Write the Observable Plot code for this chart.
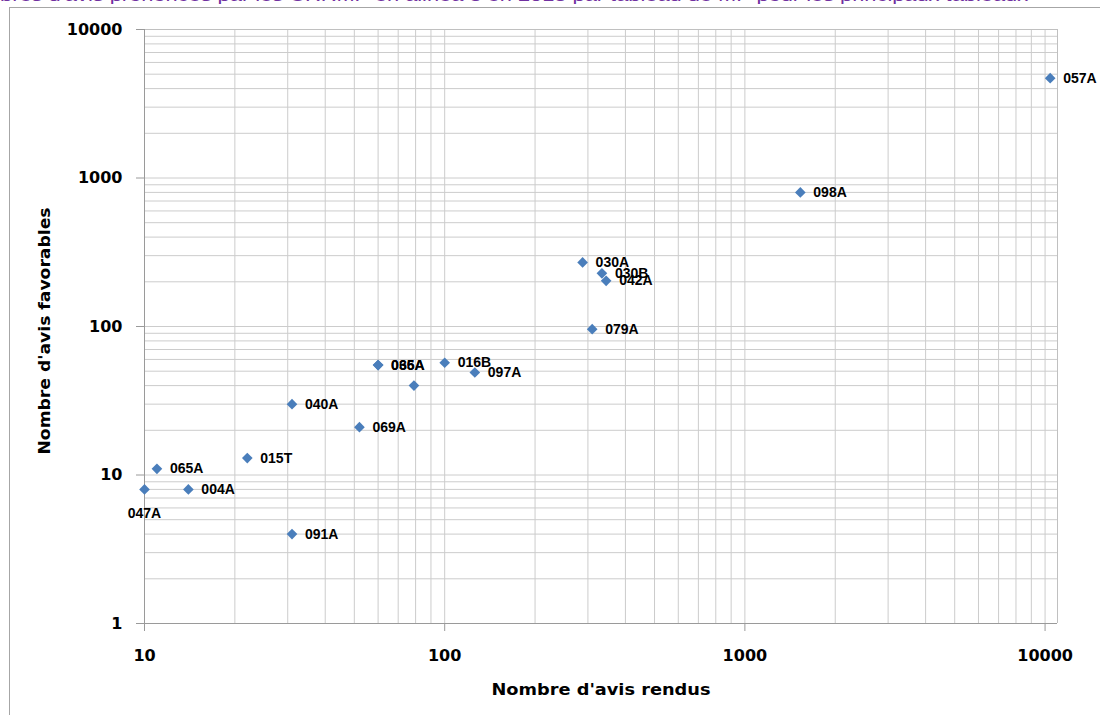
<!DOCTYPE html>
<html>
<head>
<meta charset="utf-8">
<script src="https://cdn.jsdelivr.net/npm/d3@7"></script>
<script src="https://cdn.jsdelivr.net/npm/@observablehq/plot@0.6"></script>
<style>
html, body { margin: 0; padding: 0; background: #fff; width: 1100px; height: 715px; overflow: hidden; position: relative; }
#frame { position: absolute; left: 9px; top: 7px; width: 1200px; height: 800px; border: 1px solid #a6a6a6; }
#chart { position: absolute; left: 0; top: 0; }
#title { position: absolute; left: 0; top: -12px; font: 16px "Liberation Sans", sans-serif; line-height: 16px; color: #7030a0; white-space: nowrap; transform-origin: 0 0; }
</style>
</head>
<body>
<div id="frame"></div>
<div id="chart"></div>
<div id="title"></div>
<script>
// ---- Data ----
const titleText = "Nombres d'avis prononcés par les CRRMP en alinéa 3 en 2013 par tableau de MP pour les principaux tableaux";
const xTitle = "Nombre d'avis rendus";
const yTitle = "Nombre d'avis favorables";

const codes          = ["057A", "098A", "030A", "030B", "042A", "079A", "016B", "097A", "066A", "035A", "",  "040A", "069A", "015T", "065A", "047A", "004A", "091A"];
const avisRendus     = [10400,  1530,   288,    334,    345,    310,    100,    126,    60,     60,     79,  31,     52,     22,     11,     10,     14,     31];
const avisFavorables = [4700,   800,    270,    228,    203,    96,     57,     49,     55,     55,     40,  30,     21,     13,     11,     8,      8,      4];

const xDomain = [10, 11000];
const yDomain = [1, 10000];
const xTicks = [10, 100, 1000, 10000];
const yTicks = [1, 10, 100, 1000, 10000];
const labelBelow = ["047A"];

// ---- Build ----
const data = codes.map((c, i) => ({code: c, rendus: avisRendus[i], favorables: avisFavorables[i]}));
const xGrid = d3.scaleLog().domain(xDomain).ticks();
const yGrid = d3.scaleLog().domain(yDomain).ticks();
const labelFont = "'Liberation Sans', Arial, sans-serif";

const plot = Plot.plot({
  width: 1100,
  height: 715,
  marginTop: 29,
  marginBottom: 92,
  marginLeft: 144,
  marginRight: 43,
  style: {fontFamily: "'DejaVu Sans', sans-serif", background: "transparent", color: "#000"},
  x: {type: "log", domain: xDomain, label: null},
  y: {type: "log", domain: yDomain, label: null},
  marks: [
    Plot.ruleX(xGrid, {stroke: "#cccccc", strokeWidth: 1}),
    Plot.ruleY(yGrid, {stroke: "#cccccc", strokeWidth: 1}),
    Plot.ruleX([xDomain[1]], {stroke: "#c0c0c0"}),
    Plot.ruleY([yDomain[1]], {stroke: "#c0c0c0"}),
    Plot.ruleY([yDomain[0]], {stroke: "#9a9a9a"}),
    Plot.ruleX([xDomain[0]], {stroke: "#9a9a9a"}),
    Plot.axisX(xTicks, {tickSize: 8, tickPadding: 18, fontSize: 16, fontWeight: "bold", stroke: "#9a9a9a", fill: "#000", label: null, tickFormat: d => String(d)}),
    Plot.axisY(yTicks, {tickSize: 8, tickPadding: 14, fontSize: 16, fontWeight: "bold", stroke: "#9a9a9a", fill: "#000", label: null, tickFormat: d => String(d)}),
    Plot.dot(data, {x: "rendus", y: "favorables", symbol: "diamond2", r: 4.8, fill: "#4a7ebb", stroke: "none"}),
    Plot.text(data.filter(d => !labelBelow.includes(d.code)), {x: "rendus", y: "favorables", text: "code", dx: 13, textAnchor: "start", fontSize: 14, fontWeight: "bold", fontFamily: labelFont, fill: "#000"}),
    Plot.text(data.filter(d => labelBelow.includes(d.code)), {x: "rendus", y: "favorables", text: "code", dy: 24, textAnchor: "middle", fontSize: 14, fontWeight: "bold", fontFamily: labelFont, fill: "#000"})
  ]
});
document.getElementById("chart").appendChild(plot);

// Axis titles
const svg = d3.select(plot);
svg.append("text")
  .attr("x", 601).attr("y", 690)
  .attr("text-anchor", "middle").attr("dominant-baseline", "middle")
  .attr("font-size", 16).attr("font-weight", "bold")
  .attr("font-family", "'DejaVu Sans', sans-serif")
  .attr("textLength", 219).attr("lengthAdjust", "spacingAndGlyphs")
  .text(xTitle);
svg.append("text")
  .attr("transform", "translate(45,331) rotate(-90)")
  .attr("text-anchor", "middle").attr("dominant-baseline", "middle")
  .attr("font-size", 16).attr("font-weight", "bold")
  .attr("font-family", "'DejaVu Sans', sans-serif")
  .attr("textLength", 247).attr("lengthAdjust", "spacingAndGlyphs")
  .text(yTitle);

// Title (partly cut off at the top, as in the reference)
const t = document.getElementById("title");
const pre = document.createElement("span"); pre.textContent = "Nom";
const rest = document.createElement("span"); rest.textContent = titleText.slice(3);
t.appendChild(pre); t.appendChild(rest);
const preW = pre.getBoundingClientRect().width;
const restW = rest.getBoundingClientRect().width;
const s = 1028 / restW;
t.style.transform = `scaleX(${s})`;
t.style.left = (-preW * s) + "px";
</script>
</body>
</html>
